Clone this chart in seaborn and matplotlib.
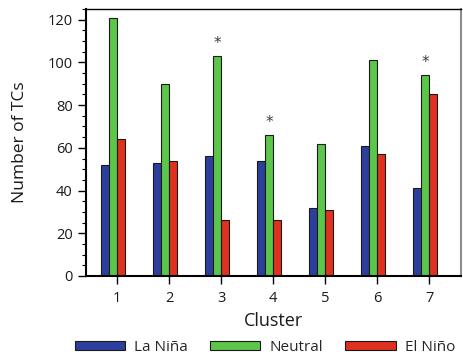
import matplotlib
matplotlib.use("Agg")
import matplotlib.pyplot as plt
from matplotlib.patches import Patch
from matplotlib.ticker import MultipleLocator
import pandas as pd
import seaborn as sns

clusters = ["1", "2", "3", "4", "5", "6", "7"]
la_nina = [52, 53, 56, 54, 32, 61, 41]
neutral = [121, 90, 103, 66, 62, 101, 94]
el_nino = [64, 54, 26, 26, 31, 57, 85]
significant = ["3", "4", "7"]  # clusters marked with an asterisk

phases = ["La Niña", "Neutral", "El Niño"]
colors = {"La Niña": "#2c3f9c", "Neutral": "#5cc64a", "El Niño": "#e0301f", "_": "white"}

df = pd.DataFrame({
    "Cluster": clusters * 3,
    "Phase": [p for p in phases for _ in clusters],
    "Count": la_nina + neutral + el_nino,
})

sns.set_theme(style="ticks")
plt.rcParams["font.family"] = ["Open Sans", "DejaVu Sans"]

fig = plt.figure(figsize=(4.64, 3.62), dpi=100)
ax = fig.add_axes([0.1853, 0.2376, 0.8082, 0.7375])

# a fourth, empty slot keeps each group left of its tick
sns.barplot(data=df, x="Cluster", y="Count", hue="Phase",
            order=clusters, hue_order=phases + ["_"], palette=colors,
            width=0.615, gap=0, edgecolor="#1a1a1a", linewidth=0.8,
            saturation=1, legend=False, ax=ax, errorbar=None)

ax.set_xlim(-0.6, 6.61)
ax.set_ylim(0, 125)
ax.yaxis.set_major_locator(MultipleLocator(20))
ax.yaxis.set_minor_locator(MultipleLocator(5))
ax.tick_params(axis="y", which="major", length=5.5, width=1, color="black",
               labelsize=10.5, pad=4, direction="out")
ax.tick_params(axis="y", which="minor", length=3, width=0.8, color="black",
               direction="out")
ax.tick_params(axis="x", length=6, width=1, color="black", labelsize=10.5,
               pad=5, direction="out")
for t in ax.get_xticklabels() + ax.get_yticklabels():
    t.set_color("#1a1a1a")

for side in ["left", "bottom"]:
    ax.spines[side].set_linewidth(1.5)
    ax.spines[side].set_color("black")
ax.spines["top"].set_linewidth(1.0)
ax.spines["top"].set_color("black")
ax.spines["right"].set_linewidth(1.5)
ax.spines["right"].set_color("#8c8c8c")

ax.set_xlabel("Cluster", fontsize=13, color="#1a1a1a", labelpad=4)
ax.set_ylabel("Number of TCs", fontsize=12.5, color="#1a1a1a", labelpad=14)

# asterisks above the Neutral bar of significant clusters
neutral_bars = ax.containers[1]
for name, bar, val in zip(clusters, neutral_bars, neutral):
    if name in significant:
        ax.text(bar.get_x() + bar.get_width() / 2, val + 6, "*",
                ha="center", va="center", fontsize=11, color="#3a3a3a",
                family="DejaVu Sans")

handles = [Patch(facecolor=colors[p], edgecolor="#1a1a1a", linewidth=0.8) for p in phases]
fig.legend(handles, phases, loc="center", bbox_to_anchor=(0.571, 0.04), ncol=3,
           frameon=False, fontsize=11, handlelength=3.3, handleheight=0.6,
           handletextpad=0.6, columnspacing=1.45, borderaxespad=0)

fig.savefig("out.png", dpi=100)
